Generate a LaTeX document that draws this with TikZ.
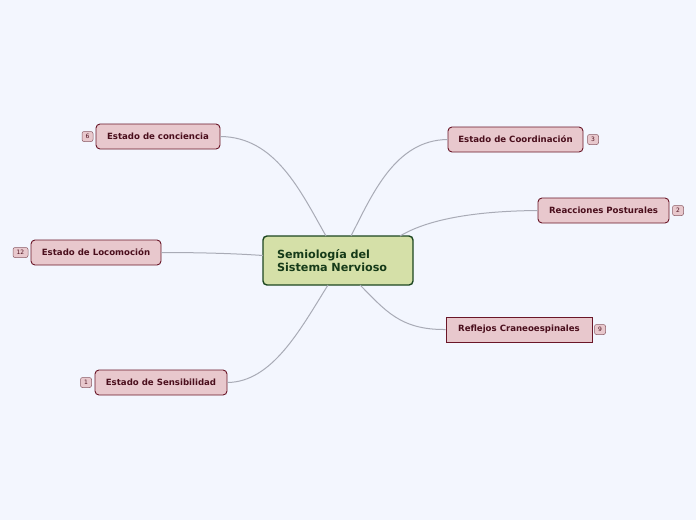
\documentclass[tikz,border=0pt]{standalone}
\usepackage{fontspec}
\setmainfont{DejaVu Sans}
\definecolor{bg}{HTML}{F3F6FE}
\definecolor{cfill}{HTML}{D5E0A8}
\definecolor{cborder}{HTML}{1C4620}
\definecolor{ctext}{HTML}{153A18}
\definecolor{kfill}{HTML}{E8C8CD}
\definecolor{kborder}{HTML}{6A1628}
\definecolor{ktext}{HTML}{4A0E1C}
\definecolor{link}{HTML}{A9ABB6}
\definecolor{bborder}{HTML}{8A5A64}
\tikzset{
  central/.style={draw=cborder, line width=1.4pt, fill=cfill, rounded corners=4pt, minimum width=150pt, minimum height=49pt, text width=122pt, align=left, font=\fontsize{11.2}{13}\selectfont\bfseries, text=ctext, inner sep=0pt},
  child/.style={draw=kborder, line width=0.9pt, fill=kfill, rounded corners=4pt, minimum height=25pt, font=\fontsize{8.6}{10}\selectfont\bfseries, text=ktext, inner sep=0pt},
  sharpchild/.style={child, rounded corners=0pt},
  badge/.style={draw=bborder, line width=0.5pt, fill=kfill, rounded corners=2pt, minimum height=10pt, minimum width=11pt, inner sep=1pt, font=\fontsize{6}{6}\selectfont, text=ktext},
  link/.style={draw=link, line width=1pt}
}
\begin{document}
\begin{tikzpicture}[x=1pt,y=-1pt]
\fill[bg] (0,0) rectangle (696,520);
\useasboundingbox (0,0) rectangle (696,520);

\node[central] (c) at (338,260.5) {Semiología del\\Sistema Nervioso};

\node[child, minimum width=124pt] (n1) at (158,136.5) {Estado de conciencia};
\node[badge] (b1) at (87.5,136.5) {6};
\node[child, minimum width=135pt] (n2) at (515.5,139.5) {Estado de Coordinación};
\node[badge] (b2) at (593,139.5) {3};
\node[child, minimum width=131pt] (n3) at (603.5,210.5) {Reacciones Posturales};
\node[badge] (b3) at (678,210.5) {2};
\node[sharpchild, minimum width=146pt] (n4) at (519,329.5) {Reflejos Craneoespinales};
\node[badge] (b4) at (600,329.5) {9};
\node[child, minimum width=130pt] (n5) at (96,252.5) {Estado de Locomoción};
\node[badge, minimum width=15pt] (b5) at (20.5,252.5) {12};
\node[child, minimum width=132pt] (n6) at (161,382.5) {Estado de Sensibilidad};
\node[badge] (b6) at (86,382.5) {1};

\coordinate (e1) at (326,236);
\coordinate (e2) at (351,236);
\coordinate (e3) at (400,236);
\coordinate (e4) at (360,285);
\coordinate (e5) at (263,255.5);
\coordinate (e6) at (328,285);

\draw[link] (n1.east) .. controls (275,137) and (300,190) .. (e1);
\draw[link] (n2.west) .. controls (395,140) and (372,195) .. (e2);
\draw[link] (n3.west) .. controls (480,211) and (430,218) .. (e3);
\draw[link] (n4.west) .. controls (400,330) and (385,310) .. (e4);
\draw[link] (n5.east) .. controls (200,252.5) and (235,253.5) .. (e5);
\draw[link] (n6.east) .. controls (272,382) and (300,330) .. (e6);
\end{tikzpicture}
\end{document}
